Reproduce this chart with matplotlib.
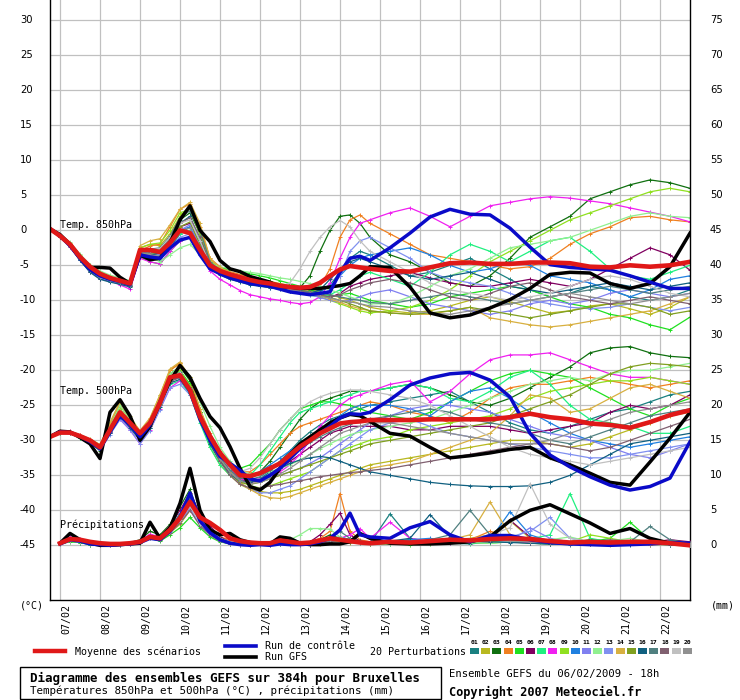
import matplotlib
matplotlib.use("Agg")
import matplotlib.pyplot as plt
from matplotlib.lines import Line2D
from matplotlib.patches import Rectangle
from matplotlib.transforms import blended_transform_factory

nan = float("nan")

# ========== TIME AXIS ========== #
# 6h steps up to 192h, then 12h steps up to 384h (run of 06/02 18h)
hours = list(range(0, 193, 6)) + list(range(204, 385, 12))
day_labels = ["07/02", "08/02", "09/02", "10/02", "11/02", "12/02", "13/02", "14/02",
              "15/02", "16/02", "17/02", "18/02", "19/02", "20/02", "21/02", "22/02"]
day_hours = [6, 30, 54, 78, 102, 126, 150, 174, 198, 222, 246, 270, 294, 318, 342, 366]
left_ticks = [-45, -40, -35, -30, -25, -20, -15, -10, -5, 0, 5, 10, 15, 20, 25, 30]
right_ticks = [0, 5, 10, 15, 20, 25, 30, 35, 40, 45, 50, 55, 60, 65, 70, 75]

member_colors = ["#1a8080", "#b8b820", "#107010", "#f08020", "#20e020", "#800060",
                 "#20f080", "#f020f0", "#90e020", "#2080e0", "#8080f0", "#90f090",
                 "#8090f0", "#d8b040", "#80a020", "#106080", "#508080", "#806070",
                 "#c0c0c0", "#909090"]
member_names = ["01", "02", "03", "04", "05", "06", "07", "08", "09", "10",
                "11", "12", "13", "14", "15", "16", "17", "18", "19", "20"]

# ========== TEMP 850 hPa ========== #
t850_mean = [0.2, -0.8, -2.0, -3.8, -5.2, -6.2, -6.8, -7.2, -7.6, -2.8, -2.8, -3.1, -1.8, 0.0, -0.4, -2.8,
             -5.0, -5.8, -6.3, -6.7, -7.1, -7.4, -7.6, -7.9, -8.1, -8.2, -8.1, -7.5, -6.5, -5.6, -5.1, -5.3, -5.5,
             -5.8, -5.9, -5.3, -4.7, -4.6, -4.8, -4.8, -4.6, -4.6, -4.7, -5.2, -5.3, -5.0, -5.2, -5.0, -4.5]
t850_control = [0.2, -0.8, -2.2, -4.0, -5.6, -6.5, -7.0, -7.3, -7.8, -3.5, -3.8, -4.0, -2.5, -1.4, -1.0, -3.5,
                -5.5, -6.2, -6.8, -7.2, -7.6, -7.8, -8.0, -8.4, -8.8, -9.0, -9.2, -9.0, -8.8, -6.0, -4.0, -3.7, -4.3,
                -2.5, -0.4, 1.9, 3.0, 2.3, 2.2, 0.3, -2.4, -4.9, -5.3, -5.5, -5.7, -6.5, -7.4, -8.3, -8.3]
t850_gfs = [0.2, -0.6, -2.0, -3.8, -5.3, -5.3, -5.4, -6.7, -7.6, -3.5, -4.2, -4.0, -1.8, 1.5, 3.5, 0.0,
            -1.6, -4.3, -5.5, -5.9, -6.6, -7.0, -7.4, -8.1, -8.1, -8.3, -8.3, -8.3, -8.1, -7.9, -7.6, -6.5, -5.2,
            -5.3, -8.1, -11.8, -12.5, -12.1, -11.1, -9.9, -8.3, -6.3, -6.0, -6.1, -7.6, -8.3, -7.6, -5.2, -0.4]
t850_members = [
    [0.2, -0.9, -2.3, -4.2, -5.8, -6.8, -7.3, -7.6, -7.9, -3.5, -3.8, -4.2, -2.5, -0.5, 0.5, -2.0, -5.5, -6.3, -6.8, -7.2, -7.5, -7.8, -8.0, -8.3, -8.6, -8.8, -9.0, -8.5, -7.8, -6.0, -4.0, -3.0, -3.5,
     -5.0, -6.5, -6.0, -5.0, -4.0, -5.5, -7.0, -8.5, -9.5, -9.0, -8.0, -8.5, -9.5, -10.0, -9.5, -8.5],
    [0.2, -0.6, -1.8, -3.5, -5.0, -6.0, -6.8, -7.0, -7.3, -2.5, -2.0, -2.2, -0.5, 2.0, 3.5, 0.0, -4.2, -5.5, -6.0, -6.5, -6.8, -7.0, -7.3, -7.6, -7.9, -8.2, -8.5, -8.8, -9.2, -9.6, -10.0, -10.5, -11.0,
     -11.5, -11.8, -11.5, -10.8, -10.0, -9.5, -10.2, -11.0, -11.8, -11.5, -10.8, -10.5, -11.2, -12.0, -11.0, -9.5],
    [0.2, -0.7, -2.1, -4.0, -5.6, -6.6, -7.1, -7.4, -7.9, -3.2, -3.0, -2.8, -1.0, 1.5, 2.5, -0.5, -5.0, -6.0, -6.6, -7.0, -7.4, -7.8, -8.0, -8.2, -8.4, -8.2, -6.5, -3.0, 0.0, 2.0, 2.2, 1.0, -1.0,
     -3.5, -4.5, -6.0, -7.5, -8.0, -6.5, -4.0, -1.0, 0.5, 2.0, 4.5, 5.5, 6.5, 7.2, 6.8, 6.0],
    [0.2, -0.8, -2.0, -3.7, -5.3, -6.3, -7.0, -7.3, -7.7, -3.0, -2.2, -2.0, 0.5, 3.0, 3.8, 0.5, -4.0, -5.2, -5.9, -6.3, -6.8, -7.1, -7.4, -7.7, -8.0, -8.3, -8.6, -8.0, -5.5, -1.0, 1.5, 2.2, 1.0,
     -0.5, -2.0, -3.5, -4.0, -4.5, -5.0, -5.5, -5.2, -4.0, -2.0, -0.5, 0.5, 1.8, 2.0, 1.5, 1.2],
    [0.2, -0.8, -2.2, -4.0, -5.5, -6.5, -7.0, -7.4, -7.8, -3.8, -4.5, -4.8, -3.0, -1.5, -1.0, -3.0, -5.0, -5.3, -5.6, -5.9, -6.2, -6.5, -6.8, -7.2, -7.6, -8.0, -8.5, -9.0, -9.5, -9.2, -9.0, -9.5, -10.0,
     -10.5, -11.0, -10.5, -9.5, -9.0, -8.5, -8.0, -8.5, -9.5, -10.5, -11.0, -12.0, -12.5, -13.5, -14.2, -12.4],
    [0.2, -0.9, -2.4, -4.3, -5.9, -6.9, -7.3, -7.6, -8.0, -3.5, -3.0, -3.5, -1.5, 0.5, 1.0, -2.5, -5.2, -6.0, -6.5, -6.9, -7.3, -7.6, -7.9, -8.2, -8.5, -8.8, -9.0, -9.3, -9.6, -9.0, -8.0, -7.5, -7.0,
     -6.5, -6.0, -6.8, -7.5, -8.0, -8.0, -7.5, -7.0, -7.5, -8.0, -7.0, -5.5, -4.0, -2.5, -3.5, -5.7],
    [0.2, -0.7, -2.0, -3.8, -5.4, -6.4, -7.0, -7.4, -7.8, -3.0, -3.2, -3.6, -2.0, -0.5, 0.0, -3.0, -5.5, -6.2, -6.6, -7.0, -7.4, -7.7, -8.0, -8.3, -8.6, -9.0, -9.3, -9.5, -9.2, -8.5, -7.5, -6.5, -6.0,
     -7.0, -8.0, -6.0, -3.5, -2.0, -3.0, -4.5, -3.0, -1.5, -1.0, -3.0, -5.5, -6.5, -7.0, -6.0, -5.0],
    [0.2, -0.6, -1.9, -3.8, -5.4, -6.5, -7.2, -7.8, -8.4, -4.0, -4.5, -4.8, -3.0, -1.5, -1.0, -3.5, -5.8, -7.0, -7.8, -8.6, -9.2, -9.5, -9.8, -10.0, -10.3, -10.5, -10.3, -9.5, -7.5, -4.0, -1.0, 1.0, 1.5,
     2.5, 3.2, 2.0, 0.5, 2.0, 3.5, 4.0, 4.5, 4.8, 4.6, 4.2, 3.8, 3.2, 2.6, 2.0, 1.2],
    [0.2, -0.8, -2.1, -3.9, -5.4, -6.3, -6.9, -7.2, -7.5, -2.5, -2.0, -1.8, 0.0, 2.5, 3.0, -0.5, -4.5, -5.5, -6.2, -6.6, -7.0, -7.3, -7.6, -7.9, -8.2, -8.6, -9.0, -9.5, -10.0, -10.5, -11.0, -11.5, -11.8,
     -11.5, -11.0, -10.0, -8.5, -6.5, -4.5, -3.0, -1.5, 0.0, 1.5, 2.5, 3.5, 4.5, 5.5, 6.0, 5.5],
    [0.2, -0.8, -2.2, -4.1, -5.7, -6.7, -7.2, -7.5, -7.9, -3.3, -3.5, -3.8, -2.0, 0.0, 0.5, -2.5, -5.3, -6.1, -6.6, -7.0, -7.4, -7.7, -8.0, -8.3, -8.6, -8.9, -9.1, -8.8, -8.0, -6.5, -5.0, -4.0, -3.5,
     -3.0, -2.5, -3.5, -5.0, -6.0, -5.5, -4.5, -5.0, -6.5, -7.0, -7.5, -8.5, -9.5, -8.5, -7.0, -6.5],
    [0.2, -0.7, -2.0, -3.9, -5.5, -6.5, -7.0, -7.4, -7.8, -3.2, -3.3, -3.5, -1.8, 0.0, 0.8, -2.2, -5.0, -5.9, -6.4, -6.8, -7.2, -7.5, -7.8, -8.1, -8.4, -8.8, -9.2, -9.6, -10.0, -10.3, -10.0, -9.5, -9.0,
     -8.5, -9.5, -10.5, -11.0, -11.5, -12.0, -11.5, -10.5, -10.0, -10.5, -10.0, -9.0, -8.5, -9.0, -9.5, -9.0],
    [0.2, -0.6, -1.7, -3.4, -4.9, -5.8, -6.4, -6.8, -7.2, -3.0, -3.8, -4.5, -3.5, -2.5, -2.0, -3.5, -4.8, -5.2, -5.5, -5.8, -6.0, -6.2, -6.5, -6.8, -7.0, -7.3, -7.6, -8.0, -8.5, -9.0, -9.5, -10.0, -10.5,
     -10.5, -9.5, -8.0, -6.5, -5.5, -4.0, -2.5, -2.0, -1.5, -1.0, 0.0, 1.0, 2.0, 2.5, 2.0, 1.8],
    [0.2, -0.9, -2.3, -4.2, -5.8, -6.8, -7.2, -7.6, -8.0, -3.6, -3.8, -4.0, -2.5, -1.0, -0.5, -3.0, -5.5, -6.3, -6.8, -7.2, -7.6, -7.9, -8.2, -8.4, -8.6, -8.8, -9.0, -9.2, -8.5, -6.5, -3.0, -1.5, -1.0,
     -2.5, -4.0, -6.0, -7.0, -7.5, -8.0, -9.0, -10.0, -10.5, -11.0, -11.2, -11.0, -10.5, -11.0, -11.5, -11.0],
    [0.2, -0.7, -1.9, -3.6, -5.1, -6.1, -6.7, -7.0, -7.4, -2.2, -1.5, -1.2, 0.8, 3.0, 4.0, 1.0, -4.0, -5.3, -6.0, -6.5, -6.9, -7.2, -7.5, -7.8, -8.1, -8.4, -8.8, -9.3, -9.8, -10.3, -10.8, -11.2, -11.5,
     -11.8, -12.0, -12.0, -11.5, -11.0, -12.5, -13.0, -13.5, -13.8, -13.5, -13.0, -12.5, -12.0, -11.5, -10.5, -9.5],
    [0.2, -0.8, -2.1, -4.0, -5.6, -6.6, -7.1, -7.5, -7.9, -3.4, -3.4, -3.3, -1.5, 0.5, 1.2, -2.0, -5.0, -5.8, -6.3, -6.7, -7.1, -7.4, -7.7, -8.0, -8.3, -8.6, -8.9, -9.2, -9.6, -10.0, -10.5, -11.0, -11.5,
     -11.8, -12.0, -11.8, -11.5, -11.0, -11.5, -12.0, -12.5, -12.0, -11.5, -11.0, -10.5, -10.5, -11.0, -12.0, -11.5],
    [0.2, -0.9, -2.3, -4.3, -6.0, -7.0, -7.4, -7.7, -8.1, -3.8, -3.6, -3.2, -1.2, 1.0, 2.0, -1.5, -5.3, -6.4, -7.0, -7.4, -7.8, -8.0, -8.2, -8.4, -8.6, -8.8, -9.0, -8.5, -7.0, -5.5, -4.5, -4.0, -4.5,
     -5.5, -6.5, -7.0, -6.5, -6.0, -7.0, -8.0, -8.5, -9.0, -8.5, -8.0, -7.5, -8.0, -8.5, -8.0, -7.5],
    [0.2, -0.8, -2.2, -4.1, -5.7, -6.6, -7.1, -7.5, -7.9, -3.0, -2.7, -2.5, -0.8, 1.8, 2.8, 0.0, -4.5, -5.7, -6.3, -6.7, -7.1, -7.4, -7.7, -8.0, -8.3, -8.6, -8.8, -9.0, -9.2, -9.5, -9.8, -10.0, -10.3,
     -10.5, -10.0, -9.5, -9.0, -9.5, -10.0, -10.5, -10.0, -9.5, -9.0, -8.5, -8.0, -8.5, -9.0, -8.5, -8.0],
    [0.2, -0.7, -2.0, -3.8, -5.4, -6.4, -6.9, -7.3, -7.7, -3.1, -3.1, -3.0, -1.2, 1.0, 1.8, -1.0, -4.8, -5.8, -6.4, -6.8, -7.2, -7.5, -7.8, -8.1, -8.4, -8.7, -9.0, -9.3, -9.5, -9.2, -8.5, -8.0, -7.5,
     -7.0, -7.5, -8.5, -9.5, -10.0, -9.0, -8.0, -7.5, -8.5, -9.5, -10.0, -10.5, -10.0, -9.5, -10.0, -10.5],
    [0.2, -0.8, -2.1, -3.9, -5.5, -6.5, -7.0, -7.3, -7.6, -3.0, -2.8, -2.6, -1.0, 1.0, 1.5, -1.5, -5.0, -6.0, -6.5, -6.9, -7.3, -7.6, -7.8, -8.0, -7.5, -5.5, -3.0, -1.0, 0.5, 1.4, 0.5, -1.5, -3.0,
     -4.5, -6.0, -7.5, -8.5, -9.0, -9.5, -10.0, -9.5, -9.0, -8.0, -7.0, -6.5, -7.0, -8.0, -9.0, -9.5],
    [0.2, -0.8, -2.2, -4.0, -5.6, -6.6, -7.1, -7.4, -7.8, -3.3, -3.5, -3.7, -2.0, 0.0, 0.3, -2.8, -5.2, -6.0, -6.5, -6.9, -7.3, -7.6, -7.9, -8.2, -8.5, -8.8, -9.1, -9.4, -9.7, -10.0, -10.2, -10.5, -10.8,
     -11.0, -11.5, -11.8, -12.0, -11.5, -11.0, -10.5, -10.0, -9.5, -9.0, -9.5, -10.0, -10.5, -10.0, -9.5, -9.0],
]

# ========== TEMP 500 hPa ========== #
t500_mean = [-29.5, -28.9, -28.9, -29.4, -30.0, -31.0, -28.5, -26.0, -27.5, -29.0, -27.5, -24.6, -21.0, -20.7, -22.8, -26.6,
             -29.4, -31.8, -33.5, -35.0, -35.1, -34.7, -34.0, -33.3, -32.1, -30.9, -30.0, -29.0, -28.3, -27.6, -27.4, -27.3, -27.1,
             -27.1, -27.1, -27.0, -27.0, -27.0, -27.0, -26.7, -26.2, -26.7, -27.0, -27.6, -27.8, -28.2, -27.4, -26.4, -25.7]
t500_control = [-29.5, -28.8, -28.9, -29.4, -30.2, -31.2, -28.8, -26.5, -27.8, -29.5, -27.8, -24.5, -21.0, -20.8, -23.0, -27.0,
                -30.0, -32.3, -33.3, -34.3, -35.5, -35.8, -35.0, -34.0, -32.6, -31.2, -30.0, -29.0, -28.0, -26.8, -26.2, -26.3, -26.0,
                -24.2, -22.1, -21.1, -20.5, -20.3, -21.4, -23.8, -29.0, -32.1, -33.8, -35.2, -36.4, -37.1, -36.6, -35.4, -30.2]
t500_gfs = [-29.5, -28.7, -28.8, -29.6, -30.5, -32.6, -26.0, -24.2, -26.5, -30.0, -28.0, -24.5, -21.5, -19.3, -21.0, -24.0,
            -26.6, -28.2, -30.9, -34.0, -36.6, -37.1, -36.0, -34.0, -32.0, -30.5, -29.5, -28.5, -27.5, -26.8, -26.3, -26.5, -27.3,
            -29.0, -29.4, -31.0, -32.5, -32.2, -31.8, -31.3, -31.0, -32.5, -33.5, -34.7, -36.0, -36.4, -33.1, -29.7, -26.0]
t500_members = [
    [-29.5, -28.8, -28.9, -29.5, -30.2, -31.3, -28.8, -26.5, -28.0, -30.0, -28.3, -25.0, -21.5, -20.5, -22.0, -26.0, -29.8, -32.5, -34.5, -35.8, -36.0, -35.5, -34.5, -33.0, -31.5, -30.0, -28.8, -27.8, -27.0, -26.5, -26.0, -25.5, -25.0,
     -24.5, -24.0, -23.5, -23.0, -24.5, -26.0, -27.5, -28.5, -29.0, -28.0, -27.0, -26.0, -25.5, -24.5, -23.5, -23.0],
    [-29.5, -28.7, -28.7, -29.2, -29.8, -30.6, -27.5, -24.5, -26.5, -28.8, -27.0, -23.5, -20.0, -19.0, -21.0, -26.5, -31.0, -33.5, -35.0, -36.3, -37.0, -37.3, -37.5, -37.5, -37.3, -37.0, -36.5, -36.0, -35.5, -35.0, -34.5, -34.0, -33.5,
     -33.0, -32.5, -32.0, -31.5, -31.0, -30.5, -30.0, -30.0, -30.5, -31.0, -30.5, -29.5, -28.5, -27.5, -26.5, -26.0],
    [-29.5, -28.9, -29.0, -29.6, -30.3, -31.5, -28.0, -25.0, -27.0, -29.5, -27.5, -24.0, -20.5, -19.5, -21.5, -26.0, -30.5, -33.0, -34.5, -35.5, -35.5, -34.5, -33.0, -31.0, -29.0, -27.0, -25.5, -24.5, -24.0, -23.5, -23.0, -23.0, -23.0,
     -22.5, -22.0, -22.5, -23.5, -24.5, -25.0, -24.0, -22.5, -21.0, -19.5, -17.5, -16.8, -16.6, -17.5, -18.0, -18.2],
    [-29.5, -28.8, -28.8, -29.3, -29.9, -30.8, -27.8, -25.0, -27.0, -29.0, -27.0, -23.8, -20.0, -19.0, -21.2, -25.5, -29.0, -31.5, -33.5, -34.5, -34.5, -33.5, -32.0, -30.5, -29.0, -28.0, -27.5, -27.0, -26.5, -26.0, -25.5, -25.0, -24.5,
     -25.0, -26.0, -26.5, -27.5, -26.0, -24.0, -22.5, -22.0, -22.0, -21.5, -21.0, -21.5, -22.0, -22.5, -22.0, -21.5],
    [-29.5, -28.9, -29.0, -29.5, -30.1, -31.0, -28.5, -26.0, -27.5, -29.0, -27.5, -24.5, -21.0, -20.0, -22.0, -26.0, -29.5, -32.0, -33.5, -34.0, -33.5, -32.0, -30.5, -28.5, -27.0, -25.5, -25.0, -24.5, -24.5, -24.8, -25.0, -25.5, -26.0,
     -26.5, -27.0, -26.0, -24.5, -23.0, -21.5, -20.5, -20.0, -20.5, -21.0, -22.5, -24.0, -25.5, -26.5, -25.0, -24.0],
    [-29.5, -28.8, -28.9, -29.4, -30.0, -31.0, -28.8, -26.5, -28.0, -29.5, -28.0, -25.0, -21.5, -21.0, -23.0, -26.5, -29.5, -32.0, -34.0, -35.5, -36.0, -35.8, -35.0, -34.0, -33.0, -32.0, -31.0, -30.0, -29.0, -28.5, -28.0, -28.0, -28.0,
     -28.0, -28.5, -28.5, -28.0, -28.0, -28.0, -28.5, -29.0, -28.5, -28.0, -27.5, -26.0, -25.0, -25.5, -25.0, -23.5],
    [-29.5, -28.9, -29.0, -29.6, -30.2, -31.2, -29.0, -26.5, -28.0, -29.8, -28.0, -25.0, -22.0, -21.5, -23.5, -27.5, -31.0, -33.5, -35.0, -35.5, -35.0, -33.5, -31.5, -29.5, -27.5, -26.0, -25.5, -25.0, -24.5, -24.0, -23.5, -23.0, -23.0,
     -22.5, -22.0, -22.5, -24.0, -24.5, -23.0, -21.0, -20.0, -22.0, -25.0, -27.0, -27.5, -28.0, -29.0, -29.0, -28.0],
    [-29.5, -28.6, -28.7, -29.3, -30.1, -31.3, -29.0, -27.0, -28.5, -30.5, -28.5, -25.5, -22.5, -21.5, -23.0, -26.8, -30.0, -32.5, -34.3, -35.5, -35.8, -35.5, -35.0, -34.5, -33.5, -32.0, -30.0, -28.0, -26.5, -25.0, -24.0, -23.5, -23.0,
     -22.0, -21.5, -24.5, -23.0, -20.5, -18.5, -17.8, -17.8, -17.5, -18.5, -19.5, -20.5, -21.0, -21.0, -21.5, -22.0],
    [-29.5, -28.8, -28.8, -29.4, -30.0, -30.9, -28.3, -25.5, -27.3, -29.2, -27.3, -24.3, -20.8, -20.0, -22.3, -26.3, -29.8, -32.5, -34.5, -35.8, -36.5, -36.8, -36.5, -36.0, -35.5, -35.0, -34.5, -33.5, -32.5, -31.5, -31.0, -30.5, -30.0,
     -29.5, -28.5, -28.0, -27.5, -27.0, -26.5, -25.5, -24.0, -23.0, -22.5, -22.0, -21.5, -21.5, -21.0, -21.5, -22.0],
    [-29.5, -28.9, -29.0, -29.5, -30.1, -31.1, -28.6, -26.0, -27.6, -29.2, -27.6, -24.5, -21.0, -20.5, -22.5, -26.5, -29.5, -32.0, -33.8, -35.0, -35.0, -34.5, -33.5, -32.5, -31.5, -30.5, -29.5, -28.5, -27.5, -26.5, -25.5, -25.0, -25.0,
     -25.0, -25.5, -26.5, -24.5, -23.0, -22.5, -24.0, -26.0, -27.5, -29.0, -30.0, -30.5, -31.0, -30.5, -30.0, -29.5],
    [-29.5, -28.8, -28.9, -29.4, -30.1, -31.0, -28.6, -26.2, -27.8, -29.5, -27.8, -24.8, -21.3, -20.8, -22.6, -26.4, -29.6, -32.0, -34.0, -35.3, -35.6, -35.6, -35.3, -35.0, -34.5, -34.0, -33.3, -32.5, -31.5, -30.5, -29.5, -28.5, -27.5,
     -26.5, -25.5, -25.0, -25.0, -25.5, -26.0, -27.0, -28.0, -29.0, -29.5, -30.0, -31.0, -32.0, -32.5, -31.5, -30.5],
    [-29.5, -28.9, -29.0, -29.5, -30.0, -30.8, -28.0, -25.0, -27.0, -28.8, -27.0, -24.0, -20.5, -19.5, -21.0, -24.5, -28.0, -31.0, -33.0, -34.3, -34.8, -34.8, -34.5, -34.0, -33.5, -32.8, -32.0, -31.2, -30.5, -29.8, -29.2, -28.8, -28.5,
     -28.0, -27.5, -27.0, -26.0, -25.0, -24.0, -23.0, -22.0, -21.5, -21.0, -21.5, -20.5, -20.0, -20.0, -19.5, -19.0],
    [-29.5, -28.8, -28.9, -29.5, -30.2, -31.4, -29.2, -27.0, -28.5, -30.5, -28.6, -25.6, -22.5, -22.0, -23.5, -27.0, -30.0, -32.5, -34.5, -36.0, -37.0, -37.5, -37.5, -37.0, -36.5, -35.5, -34.5, -33.5, -32.5, -31.5, -30.5, -29.5, -28.5,
     -27.5, -27.0, -28.0, -29.0, -29.5, -30.0, -30.5, -31.0, -31.5, -32.0, -32.5, -32.5, -32.0, -31.5, -31.0, -30.5],
    [-29.5, -28.7, -28.8, -29.3, -29.9, -30.7, -27.5, -24.5, -26.8, -28.6, -26.8, -23.5, -19.8, -18.8, -21.0, -25.5, -29.5, -32.5, -34.5, -36.0, -37.0, -37.8, -38.2, -38.3, -38.0, -37.5, -37.0, -36.5, -36.0, -35.5, -35.0, -34.5, -34.0,
     -33.5, -33.0, -32.0, -31.0, -30.0, -29.0, -26.5, -23.5, -24.0, -26.0, -25.5, -24.0, -22.5, -22.0, -23.0, -24.0],
    [-29.5, -28.9, -29.0, -29.5, -30.1, -31.1, -28.7, -26.3, -27.8, -29.4, -27.8, -24.8, -21.5, -21.0, -22.8, -26.5, -30.0, -32.8, -34.8, -36.0, -36.3, -36.0, -35.5, -35.0, -34.5, -34.0, -33.5, -33.0, -32.5, -32.0, -31.5, -31.0, -30.5,
     -30.0, -29.5, -29.0, -28.5, -28.0, -27.5, -26.5, -25.5, -24.5, -23.5, -22.0, -20.5, -19.5, -19.0, -19.2, -19.5],
    [-29.5, -28.8, -28.9, -29.5, -30.2, -31.2, -28.9, -26.6, -28.2, -30.0, -28.2, -25.2, -21.8, -21.3, -23.2, -27.0, -30.5, -33.0, -34.8, -35.8, -36.0, -35.6, -34.8, -34.0, -33.3, -32.8, -32.5, -32.3, -32.5, -33.0, -33.5, -34.0, -34.5,
     -35.0, -35.5, -36.0, -36.3, -36.5, -36.6, -36.6, -36.5, -36.0, -35.0, -33.5, -32.0, -30.5, -30.0, -29.5, -29.0],
    [-29.5, -28.8, -28.8, -29.4, -30.0, -30.9, -28.4, -25.8, -27.6, -29.3, -27.6, -24.5, -21.2, -20.3, -22.5, -26.2, -29.7, -32.4, -34.3, -35.4, -35.6, -35.2, -34.3, -33.3, -32.3, -31.3, -30.3, -29.5, -28.8, -28.2, -27.7, -27.3, -27.0,
     -26.5, -26.0, -25.5, -26.0, -27.0, -27.5, -28.0, -29.0, -30.0, -30.5, -29.5, -28.5, -27.5, -26.5, -26.0, -25.5],
    [-29.5, -28.8, -28.9, -29.5, -30.1, -31.0, -28.7, -26.3, -27.9, -29.6, -27.9, -24.9, -21.6, -21.0, -22.9, -26.7, -30.2, -33.0, -35.0, -36.3, -36.8, -36.8, -36.5, -36.3, -36.0, -35.8, -35.5, -35.2, -35.0, -34.8, -34.6, -34.5, -34.3,
     -34.0, -33.5, -33.0, -32.5, -32.0, -31.5, -31.0, -30.5, -30.5, -31.0, -31.5, -31.0, -30.0, -29.0, -28.0, -27.0],
    [-29.5, -28.8, -28.9, -29.4, -30.0, -30.9, -28.4, -25.8, -27.4, -29.2, -27.4, -24.4, -21.0, -20.4, -22.5, -26.3, -29.5, -32.0, -33.8, -34.5, -34.0, -32.5, -30.5, -28.5, -27.0, -25.5, -24.5, -23.8, -23.3, -23.0, -22.8, -22.8, -23.0,
     -23.5, -24.0, -25.0, -26.5, -28.0, -29.5, -31.0, -32.0, -32.5, -33.0, -33.5, -33.0, -32.5, -32.0, -31.5, -31.0],
    [-29.5, -28.9, -29.0, -29.5, -30.1, -31.1, -28.7, -26.2, -27.8, -29.5, -27.8, -24.7, -21.3, -20.8, -22.7, -26.6, -29.9, -32.6, -34.6, -35.8, -36.2, -36.0, -35.5, -34.8, -34.0, -33.0, -32.0, -31.0, -30.0, -29.0, -28.5, -28.0, -27.5,
     -27.5, -28.0, -28.5, -29.0, -29.5, -30.0, -30.5, -30.5, -30.0, -29.0, -28.0, -27.0, -26.0, -25.5, -25.0, -24.5],
]

# ========== PRECIPITATIONS (mm) ========== #
precip_mean = [nan, 0.3, 0.9, 0.8, 0.5, 0.3, 0.2, 0.2, 0.3, 0.5, 1.2, 1.0, 2.2, 3.9, 6.2, 4.0,
               3.2, 2.2, 1.0, 0.6, 0.4, 0.3, 0.3, 0.7, 0.5, 0.3, 0.4, 0.7, 1.0, 0.8, 0.6, 0.4, 0.3,
               0.5, 0.4, 0.6, 0.8, 0.7, 0.9, 1.0, 0.9, 0.6, 0.4, 0.5, 0.4, 0.5, 0.5, 0.3, 0.0]
precip_control = [nan, 0.2, 0.8, 0.6, 0.2, 0.1, 0.0, 0.1, 0.2, 0.4, 1.0, 0.8, 2.0, 4.0, 7.5, 3.5,
                  1.8, 0.8, 0.3, 0.1, 0.0, 0.1, 0.0, 0.2, 0.1, 0.1, 0.2, 0.5, 1.0, 2.2, 4.6, 1.5, 1.2,
                  1.0, 2.5, 3.4, 1.5, 0.5, 1.4, 1.4, 0.8, 0.4, 0.2, 0.1, 0.0, 0.1, 0.2, 0.4, 0.3]
precip_gfs = [nan, 0.3, 1.7, 0.8, 0.3, 0.0, 0.0, 0.1, 0.2, 0.3, 3.3, 1.0, 2.5, 6.0, 11.0, 5.0,
              2.2, 1.5, 1.7, 0.8, 0.4, 0.2, 0.2, 1.2, 1.0, 0.3, 0.1, 0.1, 0.2, 0.2, 0.5, 1.7, 1.0,
              0.3, 0.2, 0.2, 0.3, 0.5, 1.2, 3.5, 5.0, 5.8, 4.5, 3.2, 1.7, 2.4, 1.0, 0.3, 0.2]
precip_members = [
    [nan, 0.2, 0.6, 0.4, 0.1, 0.0, 0.0, 0.1, 0.3, 0.6, 1.5, 1.0, 2.5, 4.5, 7.0, 3.5, 2.5, 1.0, 0.4, 0.2, 0.1, 0.1, 0.2, 0.5, 0.3, 0.1, 0.0, 0.3, 0.8, 1.2, 0.8, 0.5, 0.3,
     4.5, 1.0, 0.5, 0.3, 0.2, 0.5, 0.8, 0.3, 0.2, 0.1, 0.3, 0.5, 0.2, 0.1, 0.1, 0.2],
    [nan, 0.3, 0.9, 0.7, 0.2, 0.1, 0.0, 0.0, 0.2, 0.4, 1.0, 0.8, 1.8, 3.0, 5.0, 4.5, 2.0, 0.8, 0.3, 0.1, 0.0, 0.0, 0.1, 0.3, 0.2, 0.1, 0.1, 0.2, 0.5, 0.6, 0.4, 0.3, 0.2,
     0.3, 0.2, 0.4, 0.8, 1.0, 1.5, 3.5, 1.0, 0.5, 0.3, 0.2, 0.1, 0.3, 0.5, 0.2, 0.1],
    [nan, 0.2, 0.7, 0.5, 0.2, 0.1, 0.1, 0.2, 0.4, 0.8, 2.0, 1.5, 3.0, 5.5, 8.0, 4.0, 1.5, 0.6, 0.2, 0.1, 0.0, 0.1, 0.2, 0.4, 0.3, 0.2, 0.3, 0.8, 1.5, 1.0, 0.6, 0.4, 0.3,
     0.5, 0.8, 0.4, 0.3, 0.6, 1.0, 0.5, 0.3, 0.2, 0.4, 0.8, 0.6, 0.3, 0.2, 0.1, 0.1],
    [nan, 0.3, 0.8, 0.6, 0.3, 0.1, 0.1, 0.1, 0.3, 0.5, 1.2, 1.0, 2.2, 3.5, 5.5, 3.0, 2.0, 1.2, 0.8, 0.4, 0.2, 0.1, 0.1, 0.2, 0.4, 0.3, 0.5, 1.0, 2.0, 7.4, 2.0, 0.8, 0.5,
     0.3, 0.2, 0.5, 1.0, 0.8, 2.0, 1.0, 0.5, 0.3, 0.2, 0.4, 0.3, 0.2, 0.1, 0.1, 0.1],
    [nan, 0.2, 0.5, 0.4, 0.1, 0.0, 0.0, 0.1, 0.2, 0.4, 1.0, 0.6, 1.5, 2.5, 4.0, 2.5, 1.2, 0.5, 0.2, 0.1, 0.0, 0.0, 0.1, 0.2, 0.1, 0.1, 0.2, 0.5, 1.0, 0.8, 0.5, 0.3, 0.2,
     0.2, 0.1, 0.2, 0.3, 0.4, 0.3, 0.5, 0.8, 0.4, 0.3, 0.5, 1.0, 3.3, 0.8, 0.3, 0.2],
    [nan, 0.3, 0.7, 0.6, 0.2, 0.1, 0.0, 0.1, 0.3, 0.6, 1.4, 1.2, 2.8, 5.0, 7.5, 4.5, 2.8, 1.2, 0.5, 0.2, 0.1, 0.1, 0.1, 0.3, 0.2, 0.2, 0.5, 1.5, 3.0, 4.6, 1.5, 0.6, 0.4,
     0.3, 0.5, 0.4, 0.3, 0.6, 1.0, 3.6, 1.2, 0.5, 0.3, 0.2, 0.4, 0.6, 0.4, 0.8, 0.5],
    [nan, 0.2, 0.6, 0.5, 0.2, 0.1, 0.0, 0.1, 0.2, 0.5, 1.1, 0.9, 2.0, 4.0, 6.0, 3.0, 1.8, 0.8, 0.3, 0.1, 0.1, 0.0, 0.1, 0.2, 0.2, 0.1, 0.1, 0.3, 0.6, 0.9, 0.6, 0.4, 0.3,
     0.2, 0.3, 0.5, 0.4, 0.3, 0.5, 0.6, 0.9, 1.5, 7.4, 1.0, 0.5, 0.3, 0.2, 0.1, 0.1],
    [nan, 0.4, 1.2, 0.9, 0.3, 0.1, 0.1, 0.2, 0.4, 0.7, 1.6, 1.2, 2.4, 4.2, 6.5, 3.8, 2.2, 1.0, 0.5, 0.2, 0.1, 0.1, 0.2, 0.4, 0.3, 0.2, 0.2, 0.4, 0.7, 1.0, 1.5, 2.4, 1.0,
     3.3, 1.0, 0.6, 0.4, 0.5, 0.8, 0.6, 0.4, 0.3, 0.2, 0.3, 0.5, 0.4, 0.3, 0.2, 0.1],
    [nan, 0.2, 0.6, 0.5, 0.2, 0.1, 0.0, 0.1, 0.3, 0.5, 1.2, 0.9, 2.1, 3.8, 5.8, 3.2, 1.6, 0.7, 0.3, 0.1, 0.0, 0.1, 0.1, 0.3, 0.2, 0.1, 0.2, 0.4, 0.8, 0.7, 0.5, 0.3, 0.2,
     0.3, 0.4, 0.3, 0.5, 0.6, 0.8, 1.2, 0.6, 0.4, 0.5, 1.5, 1.0, 0.5, 0.3, 0.2, 0.2],
    [nan, 0.3, 0.8, 0.6, 0.2, 0.1, 0.1, 0.1, 0.3, 0.6, 1.3, 1.0, 2.3, 4.5, 7.2, 4.0, 2.2, 0.9, 0.4, 0.2, 0.1, 0.1, 0.2, 0.4, 0.3, 0.2, 0.2, 0.5, 0.9, 1.2, 0.8, 0.5, 0.4,
     0.5, 0.8, 1.0, 0.6, 0.5, 0.8, 4.8, 1.5, 0.6, 0.4, 0.3, 0.2, 0.3, 0.2, 0.2, 0.1],
    [nan, 0.2, 0.7, 0.5, 0.2, 0.0, 0.0, 0.1, 0.2, 0.5, 1.1, 0.9, 2.0, 3.6, 5.5, 3.0, 1.8, 0.8, 0.3, 0.1, 0.0, 0.0, 0.1, 0.3, 0.2, 0.1, 0.1, 0.3, 0.7, 1.0, 0.7, 0.4, 0.3,
     0.4, 0.5, 0.6, 0.8, 0.5, 0.4, 0.6, 2.5, 1.0, 0.5, 0.4, 0.3, 0.2, 0.3, 0.2, 0.1],
    [nan, 0.3, 0.8, 0.6, 0.3, 0.1, 0.1, 0.1, 0.3, 0.5, 1.3, 1.1, 2.4, 4.0, 6.2, 3.5, 2.0, 1.0, 0.5, 0.3, 0.2, 0.2, 0.3, 0.5, 0.8, 1.5, 2.4, 2.4, 2.3, 1.2, 0.6, 0.4, 0.3,
     0.3, 0.2, 0.3, 0.5, 0.4, 0.3, 0.5, 0.6, 0.8, 1.2, 0.5, 0.6, 1.0, 0.5, 0.3, 0.2],
    [nan, 0.2, 0.6, 0.5, 0.2, 0.1, 0.0, 0.1, 0.2, 0.5, 1.0, 0.8, 1.9, 3.5, 5.2, 2.8, 1.5, 0.6, 0.2, 0.1, 0.0, 0.0, 0.1, 0.2, 0.2, 0.1, 0.1, 0.3, 0.6, 0.8, 0.6, 0.4, 0.3,
     0.3, 0.5, 0.8, 0.6, 0.5, 0.8, 1.2, 2.0, 4.0, 1.0, 0.5, 0.3, 0.2, 0.2, 0.1, 0.1],
    [nan, 0.2, 0.7, 0.6, 0.2, 0.1, 0.0, 0.1, 0.3, 0.5, 1.2, 1.0, 2.2, 3.8, 6.0, 3.3, 1.8, 0.7, 0.3, 0.1, 0.1, 0.1, 0.2, 0.3, 0.2, 0.1, 0.2, 0.4, 0.8, 1.0, 0.7, 0.5, 0.3,
     0.4, 0.3, 0.5, 0.8, 1.5, 6.2, 1.5, 0.6, 0.4, 0.3, 0.5, 0.3, 0.2, 0.3, 0.2, 0.1],
    [nan, 0.3, 0.8, 0.6, 0.2, 0.1, 0.1, 0.1, 0.3, 0.6, 1.4, 1.1, 2.5, 4.3, 6.8, 3.6, 2.0, 0.9, 0.4, 0.2, 0.1, 0.1, 0.2, 0.3, 0.2, 0.1, 0.2, 0.4, 0.7, 0.9, 0.6, 0.4, 0.3,
     0.3, 0.4, 0.3, 0.5, 0.6, 0.5, 0.8, 0.6, 0.5, 0.4, 0.6, 0.4, 0.3, 0.2, 0.2, 0.1],
    [nan, 0.2, 0.7, 0.5, 0.2, 0.1, 0.0, 0.1, 0.3, 0.5, 1.2, 0.9, 2.2, 4.0, 6.3, 3.4, 1.9, 0.8, 0.3, 0.1, 0.0, 0.1, 0.1, 0.3, 0.2, 0.1, 0.1, 0.3, 0.7, 1.0, 0.8, 0.5, 0.4,
     0.6, 1.0, 4.4, 1.2, 0.6, 0.5, 0.4, 0.3, 0.2, 0.2, 0.3, 0.2, 0.1, 0.2, 0.1, 0.1],
    [nan, 0.3, 0.7, 0.5, 0.2, 0.1, 0.1, 0.1, 0.3, 0.6, 1.3, 1.0, 2.4, 4.2, 6.6, 3.7, 2.1, 0.9, 0.4, 0.2, 0.1, 0.1, 0.2, 0.4, 0.3, 0.2, 0.2, 0.5, 1.0, 2.0, 1.0, 0.6, 0.4,
     0.3, 0.5, 0.8, 1.5, 5.0, 1.5, 0.8, 0.5, 0.4, 0.3, 0.2, 0.3, 0.5, 2.7, 0.8, 0.3],
    [nan, 0.2, 0.6, 0.5, 0.2, 0.1, 0.0, 0.1, 0.2, 0.4, 1.0, 0.8, 1.8, 3.2, 5.0, 2.8, 1.5, 0.6, 0.2, 0.1, 0.0, 0.0, 0.1, 0.2, 0.2, 0.1, 0.1, 0.3, 0.5, 0.7, 0.5, 0.3, 0.2,
     0.3, 0.4, 0.3, 0.5, 0.6, 0.8, 1.0, 0.6, 0.4, 0.3, 0.5, 0.8, 0.6, 0.4, 0.3, 0.2],
    [nan, 0.2, 0.6, 0.5, 0.2, 0.1, 0.0, 0.1, 0.3, 0.5, 1.1, 0.9, 2.0, 3.6, 5.6, 3.1, 1.7, 0.7, 0.3, 0.1, 0.0, 0.1, 0.1, 0.3, 0.2, 0.1, 0.2, 0.4, 0.8, 1.0, 0.7, 0.4, 0.3,
     0.3, 0.4, 0.5, 0.6, 0.8, 1.5, 2.5, 8.8, 3.0, 1.0, 0.5, 0.4, 0.3, 0.2, 0.2, 0.1],
    [nan, 0.3, 0.7, 0.6, 0.2, 0.1, 0.0, 0.1, 0.3, 0.5, 1.2, 1.0, 2.2, 3.9, 6.1, 3.4, 1.9, 0.8, 0.3, 0.1, 0.1, 0.1, 0.2, 0.3, 0.2, 0.1, 0.2, 0.4, 0.7, 0.9, 0.6, 0.4, 0.3,
     0.3, 0.3, 0.4, 0.5, 0.6, 0.8, 0.6, 0.5, 0.4, 0.3, 0.4, 0.5, 0.4, 0.3, 0.2, 0.1],
]

for name, group in [("t850", t850_members), ("t500", t500_members), ("precip", precip_members)]:
    for k, serie in enumerate(group):
        if len(serie) != len(hours):
            raise ValueError(f"{name} member {k + 1}: {len(serie)} values")

# ========== FIGURE ========== #
W, H = 740, 700
MONO = "DejaVu Sans Mono"
RED, BLUE = "#e01818", "#0a0ac8"


def fx(x):
    return x / W


def fy(y):
    return 1 - y / H


fig = plt.figure(figsize=(W / 100, H / 100), dpi=100)
ax = fig.add_axes([fx(50), fy(600), (690 - 50) / W, 600 / H])
ax.set_xlim(0, 384)
ax.set_ylim(-52.81, 32.9)
ax2 = ax.twinx()
ax2.set_ylim(-52.81 + 45, 32.9 + 45)

ax.set_xticks(day_hours)
ax.set_yticks(left_ticks)
ax.grid(True, color="#c0c0c0", lw=0.9)
ax.set_axisbelow(True)
ax.tick_params(length=0, labelleft=False, labelbottom=False)
ax2.tick_params(length=0, labelright=False)
ax2.set_yticks([])
for a in (ax, ax2):
    a.spines["top"].set_visible(False)
ax2.spines["left"].set_visible(False)
ax2.spines["right"].set_visible(False)
ax2.spines["bottom"].set_visible(False)
for s in ("left", "right", "bottom"):
    ax.spines[s].set_color("black")
    ax.spines[s].set_linewidth(1.0)

pert_style = dict(lw=0.9, marker="+", ms=3, mew=0.7)
for k in range(len(member_colors)):
    ax.plot(hours, t850_members[k], color=member_colors[k], **pert_style)
    ax.plot(hours, t500_members[k], color=member_colors[k], **pert_style)
    ax2.plot(hours, precip_members[k], color=member_colors[k], **pert_style)

ax.plot(hours, t850_gfs, color="black", lw=2.5)
ax.plot(hours, t500_gfs, color="black", lw=2.5)
ax2.plot(hours, precip_gfs, color="black", lw=2.5)
ax.plot(hours, t850_control, color=BLUE, lw=2.5)
ax.plot(hours, t500_control, color=BLUE, lw=2.5)
ax2.plot(hours, precip_control, color=BLUE, lw=2.5)
ax.plot(hours, t850_mean, color=RED, lw=3.3)
ax.plot(hours, t500_mean, color=RED, lw=3.3)
ax2.plot(hours, precip_mean, color=RED, lw=3.3)

# series labels inside the plot
ltr = blended_transform_factory(fig.transFigure, ax.transData)
ax.text(fx(60), 0.0, "Temp. 850hPa", transform=ltr, va="bottom", ha="left", family=MONO, fontsize=7.2)
ax.text(fx(60), -23.0, "Temp. 500hPa", transform=ltr, va="center", ha="left", family=MONO, fontsize=7.2)
ax.text(fx(60), -42.0, "Précipitations", transform=ltr, va="center", ha="left", family=MONO, fontsize=7.2)

# axis tick labels
for v in left_ticks:
    fig.text(fx(20), v, str(v), transform=ltr, va="center", ha="left", fontsize=7.2)
rtr = blended_transform_factory(fig.transFigure, ax2.transData)
for v in right_ticks:
    fig.text(fx(710), v, str(v), transform=rtr, va="center", ha="left", fontsize=7.2)
btr = blended_transform_factory(ax.transData, fig.transFigure)
for h, lab in zip(day_hours, day_labels):
    fig.text(h + 3.6, fy(604), lab, transform=btr, rotation=90, va="top", ha="center",
             family=MONO, fontsize=7.2)
fig.text(fx(20), fy(606), "(°C)", va="center", ha="left", family=MONO, fontsize=7.2)
fig.text(fx(711), fy(606), "(mm)", va="center", ha="left", family=MONO, fontsize=7.2)

# legend
fig.add_artist(Line2D([fx(35), fx(65)], [fy(651), fy(651)], color=RED, lw=3.2))
fig.text(fx(75), fy(652), "Moyenne des scénarios", va="center", ha="left", family=MONO, fontsize=7.2)
fig.add_artist(Line2D([fx(225), fx(256)], [fy(646), fy(646)], color=BLUE, lw=2.6))
fig.add_artist(Line2D([fx(225), fx(256)], [fy(657), fy(657)], color="black", lw=2.6))
fig.text(fx(265), fy(646), "Run de contrôle", va="center", ha="left", family=MONO, fontsize=7.2)
fig.text(fx(265), fy(657), "Run GFS", va="center", ha="left", family=MONO, fontsize=7.2)
fig.text(fx(370), fy(652), "20 Perturbations", va="center", ha="left", family=MONO, fontsize=7.2)
for k, (c, n) in enumerate(zip(member_colors, member_names)):
    x0 = 470 + k * 11.2
    fig.add_artist(Rectangle((fx(x0), fy(654)), 9 / W, 6 / H, transform=fig.transFigure,
                             color=c, lw=0))
    fig.text(fx(x0 + 4.5), fy(643), n, va="center", ha="center", family=MONO,
             fontsize=4.6, weight="bold")

# title box
fig.add_artist(Rectangle((fx(20), fy(699)), (441 - 20) / W, 32 / H, transform=fig.transFigure,
                         fill=False, ec="black", lw=1.0))
fig.text(fx(30), fy(678), "Diagramme des ensembles GEFS sur 384h pour Bruxelles",
         va="center", ha="left", family=MONO, fontsize=9.0, weight="bold")
fig.text(fx(30), fy(691), "Températures 850hPa et 500hPa (°C) , précipitations (mm)",
         va="center", ha="left", family=MONO, fontsize=7.8)
fig.text(fx(449), fy(674), "Ensemble GEFS du 06/02/2009 - 18h",
         va="center", ha="left", family=MONO, fontsize=7.6)
fig.text(fx(449), fy(692), "Copyright 2007 Meteociel.fr",
         va="center", ha="left", family=MONO, fontsize=8.6, weight="bold")

fig.savefig("out.png", dpi=100)
